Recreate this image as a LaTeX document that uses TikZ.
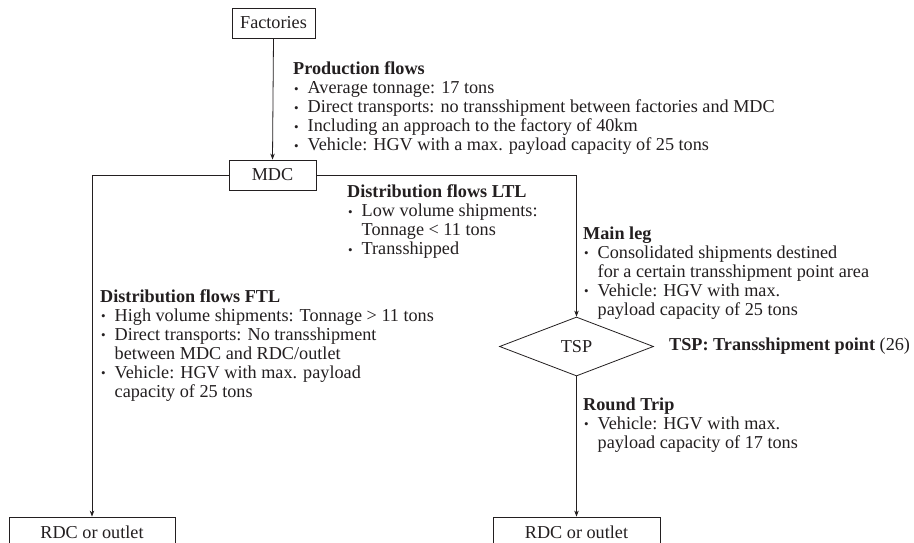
\documentclass[tikz,border=0pt]{standalone}
\usepackage{fontspec}
\setmainfont{Liberation Serif}
\usetikzlibrary{shapes.geometric,arrows.meta}
\definecolor{ink}{HTML}{231F20}
\newcommand{\bul}{\makebox[14.5pt][l]{\hspace{1pt}\raisebox{0.5pt}{\fontsize{13}{13}\selectfont•}}}
\newcommand{\ind}{\hspace*{14.5pt}}
\tikzset{
  txt/.style={font=\fontsize{18.2}{19}\selectfont, text=ink},
  box/.style={txt, draw=ink, line width=0.8pt, inner sep=0pt, minimum height=30pt},
  tspbox/.style={txt, draw=ink, line width=0.8pt, diamond, inner sep=0pt, minimum width=154pt, minimum height=59pt},
  info/.style={txt, anchor=north west, align=left, inner sep=0pt},
  flow/.style={draw=ink, line width=0.8pt, -{Stealth[length=6pt,width=4.5pt]}},
}
\begin{document}
\begin{tikzpicture}[x=1pt,y=-1pt]
\clip (0,0) rectangle (914,543);
\fill[white] (0,0) rectangle (914,543);

\node[box, minimum width=83pt] (fac) at (273.5,23) {Factories};
\node[box, minimum width=87pt] (mdc) at (272.5,175) {MDC};
\node[tspbox] (tsp) at (576.5,346.5) {TSP};
\node[box, minimum width=166pt, minimum height=30pt] (rdcL) at (92,532) {RDC or outlet};
\node[box, minimum width=167pt, minimum height=30pt] (rdcR) at (576.5,532) {RDC or outlet};

\draw[flow] (fac.south) -- (mdc.north);
\draw[flow] (mdc.west) -| (rdcL.north);
\draw[flow] (mdc.east) -| (tsp.north);
\draw[flow] (tsp.south) -- (rdcR.north);

\node[info] (prod) at (293,61.5) {\textbf{Production flows}\\
\bul Average tonnage: 17 tons\\
\bul Direct transports: no transshipment between factories and MDC\\
\bul Including an approach to the factory of 40km\\
\bul Vehicle: HGV with a max. payload capacity of 25 tons};

\node[info] (ltl) at (347,184.5) {\textbf{Distribution flows LTL}\\
\bul Low volume shipments:\\
\ind Tonnage < 11 tons\\
\bul Transshipped};

\node[info] (main) at (583,226.5) {\textbf{Main leg}\\
\bul Consolidated shipments destined\\
\ind for a certain transshipment point area\\
\bul Vehicle: HGV with max.\\
\ind payload capacity of 25 tons};

\node[info] (ftl) at (100,289) {\textbf{Distribution flows FTL}\\
\bul High volume shipments: Tonnage > 11 tons\\
\bul Direct transports: No transshipment\\
\ind between MDC and RDC/outlet\\
\bul Vehicle: HGV with max. payload\\
\ind capacity of 25 tons};

\node[txt, anchor=west, inner sep=0pt] (tsplbl) at (669,346.5) {\textbf{TSP: Transshipment point} (26)};

\node[info] (round) at (583,397.5) {\textbf{Round Trip}\\
\bul Vehicle: HGV with max.\\
\ind payload capacity of 17 tons};
\end{tikzpicture}
\end{document}
